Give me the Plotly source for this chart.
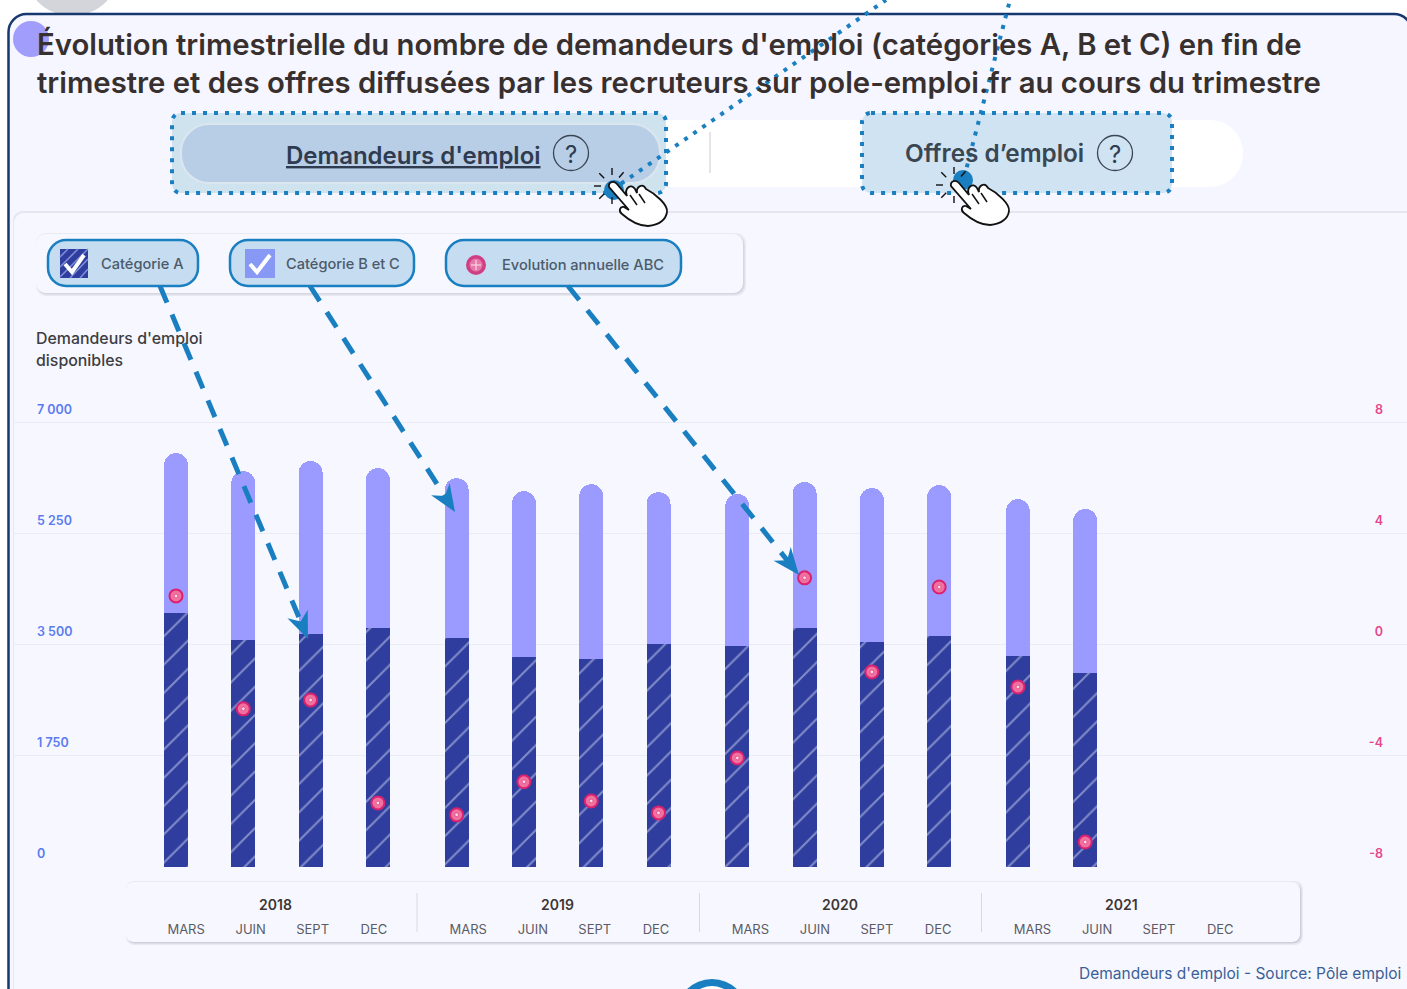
import math
import plotly.graph_objects as go

W, H = 1407, 989
YEARS = ["2018", "2019", "2020", "2021"]
MONTHS = ["MARS", "JUIN", "SEPT", "DEC"]
CAT_A = [4005, 3575, 3675, 3765, 3610, 3310, 3280, 3515, 3485, 3765, 3545, 3640, 3325, 3060]
TOTAL = [6525, 6240, 6400, 6290, 6130, 5925, 6035, 5910, 5880, 6070, 5975, 6020, 5800, 5645]
EVOL = [1.77, -2.30, -1.98, -5.69, -6.12, -4.93, -5.62, -6.05, -4.07, 2.42, -0.97, 2.09, -1.51, -7.10]
LEFT_TICKS = [0, 1750, 3500, 5250, 7000]
LEFT_TEXT = ["0", "1 750", "3 500", "5 250", "7 000"]
RIGHT_TICKS = [-8, -4, 0, 4, 8]
RIGHT_TEXT = ["-8", "-4", "0", "4", "8"]
TITLE = ("Évolution trimestrielle du nombre de demandeurs d'emploi (catégories A, B et C) en fin de<br>"
         "trimestre et des offres diffusées par les recruteurs sur pole-emploi.fr au cours du trimestre")

FONT = "Inter"
BLUE = "#1a7fc1"
SLOT, X0, GAP = 67.3, 176, 0.17
POS = [i + GAP * (i // 4) for i in range(16)]
CAT_BC = [t - a for t, a in zip(TOTAL, CAT_A)]
LABEL_OFFSET = [0.15, 0.11, 0.03, -0.06]
TICK_POS = [POS[i] + LABEL_OFFSET[i % 4] + 0.022 * (i // 4) for i in range(16)]
TICK_TEXT = [MONTHS[i % 4] for i in range(16)]


def px(x):
    return x / W


def py(y):
    return 1 - y / H


def rr(x0, y0, x1, y1, r):
    a = lambda x, y: f"{px(x):.5f},{py(y):.5f}"
    k = r * 0.45
    return (f"M{a(x0+r,y0)} L{a(x1-r,y0)} C{a(x1-k,y0)} {a(x1,y0+k)} {a(x1,y0+r)} "
            f"L{a(x1,y1-r)} C{a(x1,y1-k)} {a(x1-k,y1)} {a(x1-r,y1)} "
            f"L{a(x0+r,y1)} C{a(x0+k,y1)} {a(x0,y1-k)} {a(x0,y1-r)} "
            f"L{a(x0,y0+r)} C{a(x0,y0+k)} {a(x0+k,y0)} {a(x0+r,y0)} Z")


shapes = []


def add_path(path, fill="rgba(0,0,0,0)", line=None, width=0, dash=None, layer="below", opacity=1):
    shapes.append(dict(type="path", xref="paper", yref="paper", path=path, fillcolor=fill, layer=layer,
                       opacity=opacity, line=dict(color=line or "rgba(0,0,0,0)", width=width, dash=dash or "solid")))


def add_rr(x0, y0, x1, y1, r, **kw):
    add_path(rr(x0, y0, x1, y1, r), **kw)


def add_line(x0, y0, x1, y1, color, width, dash="solid", layer="below"):
    shapes.append(dict(type="line", xref="paper", yref="paper", x0=px(x0), y0=py(y0), x1=px(x1), y1=py(y1),
                       layer=layer, line=dict(color=color, width=width, dash=dash)))


def add_circle(cx, cy, r, fill, line=None, width=0, layer="below"):
    shapes.append(dict(type="circle", xref="paper", yref="paper", x0=px(cx - r), x1=px(cx + r), y0=py(cy + r),
                       y1=py(cy - r), fillcolor=fill, layer=layer,
                       line=dict(color=line or "rgba(0,0,0,0)", width=width)))


def poly(pts):
    return "M" + " L".join(f"{px(x):.5f},{py(y):.5f}" for x, y in pts) + " Z"


def open_poly(pts):
    return "M" + " L".join(f"{px(x):.5f},{py(y):.5f}" for x, y in pts)


# page and card
add_circle(72, -32, 48, "#d4d5da")
add_rr(8.5, 14, 1412, 1040, 18, fill="#f5f6ff", line="#17386f", width=2.5)
add_circle(31, 39, 18, "#a09dfd")

# toggle
add_rr(180, 120, 1243, 187, 33, fill="#ffffff")
add_line(710, 132, 710, 173, "#c9c9d2", 1)
add_rr(172, 113, 666, 193, 9, fill="#cfe3ee", line=BLUE, width=4, dash="4px,7px")
add_rr(181, 124, 660, 183, 28, fill="#b8cde6", line="#dbe6f0", width=2)
add_rr(862, 113, 1172, 193, 9, fill="#d0e3f2", line=BLUE, width=4, dash="4px,7px")
add_circle(571, 153, 17.5, "rgba(0,0,0,0)", "#3a4652", 1.3)
add_circle(1115, 153, 17.5, "rgba(0,0,0,0)", "#3a4652", 1.3)

# chart panel, legend panel, axis panel
add_rr(13, 211, 1420, 1020, 10, fill="#e6e6f0")
add_rr(14, 213, 1420, 1020, 10, fill="#f6f7ff")
add_rr(36, 233, 746, 296, 10, fill="#e9e9f2")
add_rr(37, 235, 744.5, 294.5, 10, fill="#d6d6e0")
add_rr(36, 234, 743, 293, 10, fill="#f7f8ff")
add_rr(126, 881, 1303, 945, 8, fill="#e9e9f2")
add_rr(127, 883, 1301.5, 943.5, 8, fill="#cfcfda")
add_rr(126, 882, 1300, 942, 8, fill="#f7f8ff")
for dx in (417, 699.5, 981.5):
    add_line(dx, 893, dx, 932, "#d8d8e2", 1)

# legend chips
CHIP = "#c5dcf1"
add_rr(48, 240, 198, 286, 18, fill=CHIP, line=BLUE, width=2.5)
add_rr(230, 240, 414, 286, 18, fill=CHIP, line=BLUE, width=2.5)
add_rr(446, 240, 681, 286, 18, fill=CHIP, line=BLUE, width=2.5)
add_path(poly([(60, 249), (88, 249), (88, 278), (60, 278)]), fill="#2f3e9e")
for d in (8, 18, 28):
    add_line(60, 249 + d, 60 + d, 249, "#7f8fd8", 1.5)
for d in (10, 20):
    add_line(60 + d, 278, 88, 249 + d, "#7f8fd8", 1.5)
add_path(open_poly([(65, 264), (72, 272), (84, 255)]), line="#ffffff", width=4)
add_path(poly([(245, 249), (275, 249), (275, 278), (245, 278)]), fill="#8799f5")
add_path(open_poly([(250, 264), (257, 272), (270, 255)]), line="#ffffff", width=4)
add_circle(476, 265, 10, "#cf3f85")
add_circle(476, 265, 6.5, "#e878a8")
add_line(476, 260, 476, 270, "#f6d6e6", 1.2)
add_line(471, 265, 481, 265, "#f6d6e6", 1.2)

# dotted leaders
add_line(612, 190, 886, 0, BLUE, 4, "4px,7px", layer="above")
add_line(964, 178, 1010, 0, BLUE, 4, "4px,7px", layer="above")


# dashed arrows with heads
def arrow(x0, y0, x1, y1):
    dx, dy = x1 - x0, y1 - y0
    n = math.hypot(dx, dy)
    ux, uy = dx / n, dy / n
    add_line(x0, y0, x1 - ux * 18, y1 - uy * 18, BLUE, 5, "18px,13px", layer="above")
    bx, by = x1 - ux * 27, y1 - uy * 27
    mx, my = x1 - ux * 19, y1 - uy * 19
    add_path(poly([(x1, y1), (bx - uy * 11, by + ux * 11), (mx, my), (bx + uy * 11, by - ux * 11)]),
             fill=BLUE, layer="above")


arrow(160, 286, 308, 639)
arrow(310, 286, 455, 512)
arrow(568, 286, 799, 575)

# bottom blue badge
add_circle(712, 1015, 36, BLUE, layer="above")
add_circle(712, 1011.5, 25.5, "#ffffff", layer="above")


# hands
def hand(tx, ty, dotx, doty):
    add_circle(dotx, doty, 10, BLUE, layer="above")
    c = lambda x, y: f"{px(tx + x):.5f},{py(ty + y):.5f}"
    path = (f"M{c(-1,6)} C{c(-2,1)} {c(4,-1)} {c(7,3)} L{c(17,15)} C{c(14,7)} {c(21,2)} {c(25,8)} L{c(27,12)} "
            f"C{c(26,5)} {c(33,2)} {c(36,8)} C{c(46,13)} {c(58,24)} {c(57,31)} "
            f"C{c(56,38)} {c(50,44)} {c(38,45)} C{c(30,45)} {c(20,40)} {c(12,33)} "
            f"C{c(8,30)} {c(10,25)} {c(14,26)} L{c(19,29)} Z")
    add_path(path, fill="#ffffff", line="#111111", width=1.8, layer="above")
    add_path(open_poly([(tx + 20, ty + 14), (tx + 27, ty + 24)]), line="#111111", width=1.5, layer="above")
    add_path(open_poly([(tx + 29, ty + 13), (tx + 35, ty + 22)]), line="#111111", width=1.5, layer="above")
    cx, cy = tx + 2, ty + 5
    for deg in (50, 90, 135, 180, 225, 270):
        a = math.radians(deg)
        add_line(cx + 11 * math.cos(a), cy - 11 * math.sin(a), cx + 18 * math.cos(a), cy - 18 * math.sin(a),
                 "#111111", 1.4, layer="above")


hand(610, 181, 614, 190)
hand(952, 180, 963, 180)


def note(x, y, text, size, color, anchor="left", weight=400, under=False):
    return dict(x=px(x), y=py(y), xref="paper", yref="paper", text=f"<u>{text}</u>" if under else text,
                showarrow=False, xanchor=anchor, align=anchor if anchor != "center" else "center", yanchor="middle",
                font=dict(family=FONT, size=size, color=color, weight=weight))


annotations = [
    note(283.5, 155, "Demandeurs d'emploi", 24, "#2f3c50", weight=600, under=True),
    note(903, 153, "Offres d’emploi", 24.3, "#3a4652", weight=600),
    note(571, 154, "?", 24, "#2f3c50", "center", 400),
    note(1115, 154, "?", 24, "#2f3c50", "center", 400),
    note(99, 264, "Catégorie A", 14.6, "#4c5a6a", weight=500),
    note(284, 264, "Catégorie B et C", 14.6, "#4c5a6a", weight=500),
    note(500, 265, "Evolution annuelle ABC", 14.6, "#4c5a6a", weight=500),
    note(34, 338.5, "Demandeurs d'emploi", 15.9, "#3d3d42", weight=500),
    note(34, 360.5, "disponibles", 15.9, "#3d3d42", weight=500),
    note(1403, 973, "Demandeurs d'emploi - Source: Pôle emploi", 15.5, "#3b5f96", "right", 400),
]
for k, yr in enumerate(YEARS):
    annotations.append(dict(x=sum(POS[k * 4:k * 4 + 4]) / 4 + 0.02 * k - 0.02, y=py(904), xref="x", yref="paper", text=yr,
                            showarrow=False, yanchor="middle",
                            font=dict(family=FONT, size=14, color="#3d3533", weight=600)))

A_X = POS[:len(CAT_A)]
fig = go.Figure()
fig.add_bar(name="Catégorie A", x=A_X, y=CAT_A, width=24 / SLOT,
            marker=dict(color="#2f3e9e", line_width=0,
                        pattern=dict(shape="/", fgcolor="#d5d9f3", bgcolor="#2f3e9e", size=20, solidity=0.1)))
fig.add_bar(name="Catégorie B et C", x=A_X, y=CAT_BC, width=24 / SLOT, marker=dict(color="#9b9bff", line_width=0))
fig.add_scatter(name="Evolution annuelle ABC", x=A_X, y=EVOL, yaxis="y2", mode="markers",
                marker=dict(size=13, color="#f0709f", line=dict(color="#d9226f", width=2)))
fig.add_scatter(name="centre", x=A_X, y=EVOL, yaxis="y2", mode="markers", hoverinfo="skip",
                marker=dict(size=3.5, color="#fde0ea", line=dict(color="#d9226f", width=0.5)))

# the value axes run a little past 7 000 so the raised top labels stay drawn
Y_TOP = 7500
Y2_TOP = -8 + Y_TOP * 16 / 7000
PX_PER_UNIT = (866 - 422) / 7000
BASE = 867
y_dom = [py(BASE), py(BASE - Y_TOP * PX_PER_UNIT)]
fig.update_layout(
    width=W, height=H, autosize=False, margin=dict(l=0, r=0, t=0, b=0), barmode="stack", barcornerradius=12,
    showlegend=False, paper_bgcolor="#ffffff", plot_bgcolor="rgba(0,0,0,0)",
    font=dict(family=FONT),
    title=dict(text=TITLE, x=37 / W, xanchor="left", xref="paper", y=py(54.5), yanchor="top",
               font=dict(family=FONT, size=29.3, color="#37302f", weight=600)),
    xaxis=dict(domain=[px(13), 1], range=[(13 - X0) / SLOT, (W - X0) / SLOT], tickvals=TICK_POS, ticktext=TICK_TEXT,
               showgrid=False, zeroline=False, ticks="", ticklabelstandoff=53,
               tickfont=dict(family=FONT, size=13, color="#5b5b66")),
    yaxis=dict(domain=y_dom, range=[0, Y_TOP], tickvals=LEFT_TICKS, ticktext=LEFT_TEXT, gridcolor="#ebebf6",
               zeroline=False, ticklabelposition="inside", ticklabelstandoff=21, ticklabelshift=-13,
               tickfont=dict(family=FONT, size=12.5, color="#5b7bf0", weight=600)),
    yaxis2=dict(domain=y_dom, range=[-8, Y2_TOP], overlaying="y", side="right", tickvals=RIGHT_TICKS, ticktext=RIGHT_TEXT,
                showgrid=False, zeroline=False, ticklabelposition="inside", ticklabelstandoff=21, ticklabelshift=-13,
                tickfont=dict(family=FONT, size=12.5, color="#e8458a", weight=600)),
    shapes=shapes, annotations=annotations,
)

fig.write_html("out.html", config={"displayModeBar": False},
               post_script="document.body.style.margin='0';document.body.style.overflow='hidden';")
